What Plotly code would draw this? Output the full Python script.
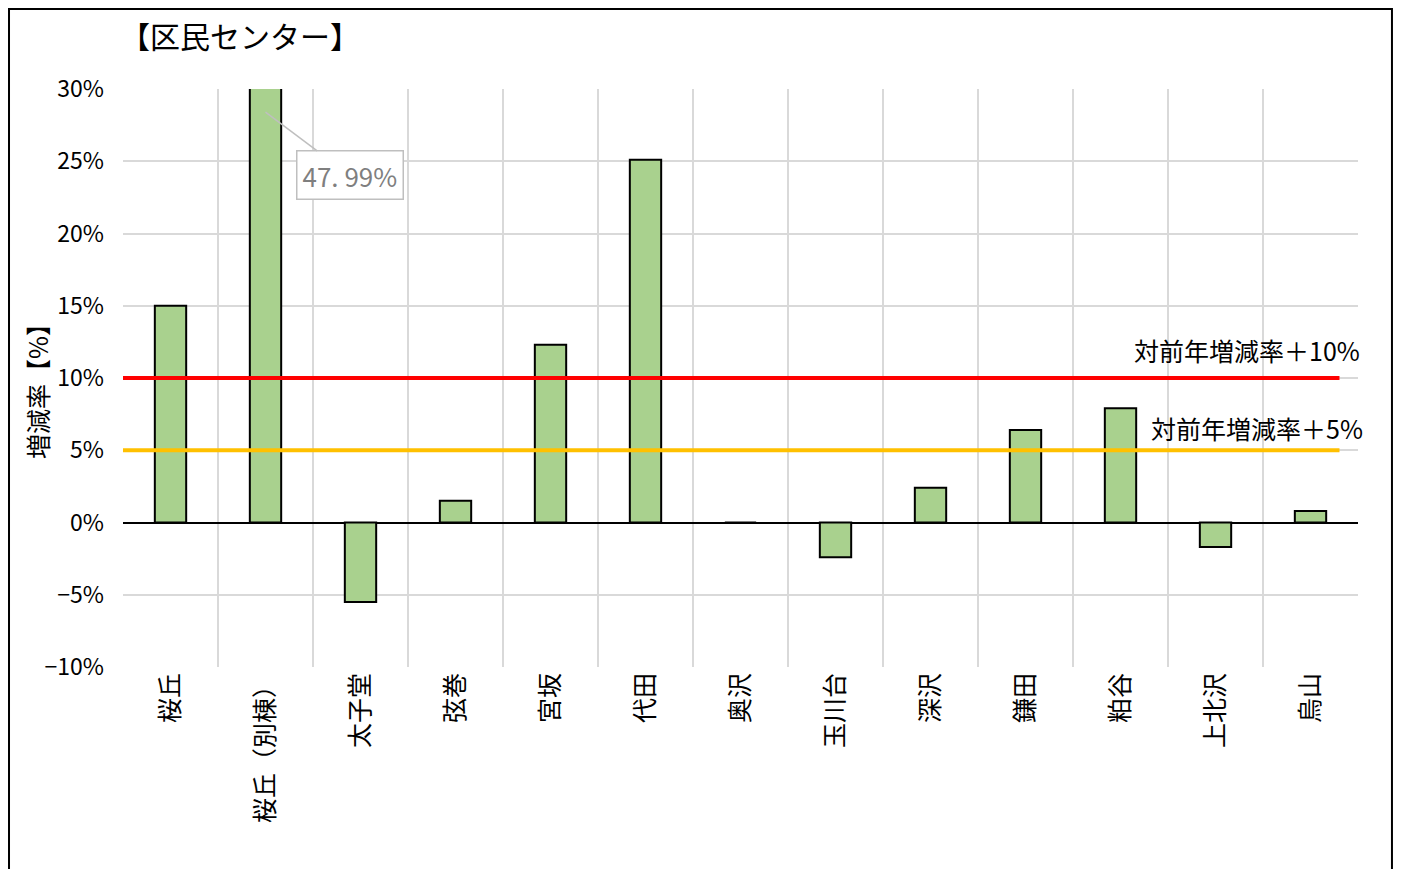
import plotly.graph_objects as go

# 区民センター 増減率
categories = ['桜丘', '桜丘（別棟）', '太子堂', '弦巻', '宮坂', '代田', '奥沢',
              '玉川台', '深沢', '鎌田', '粕谷', '上北沢', '烏山']
rates = [15.0, 47.99, -5.5, 1.5, 12.3, 25.1, 0.0, -2.4, 2.4, 6.4, 7.9, -1.7, 0.8]
threshold_red = 10
threshold_orange = 5
y_ticks = [-10, -5, 0, 5, 10, 15, 20, 25, 30]
y_tick_labels = ['−10%', '−5%', '0%', '5%', '10%', '15%', '20%', '25%', '30%']

FONT = 'Noto Sans CJK JP'

fig = go.Figure()
fig.add_trace(go.Bar(
    x=categories, y=rates,
    width=0.33,
    marker=dict(color='#A9D18E', line=dict(color='black', width=2)),
    hoverinfo='x+y'
))

# reference lines
fig.add_shape(type='line', xref='x domain', yref='y', x0=0, x1=0.985,
              y0=threshold_red, y1=threshold_red,
              line=dict(color='#FF0000', width=4))
fig.add_shape(type='line', xref='x domain', yref='y', x0=0, x1=0.985,
              y0=threshold_orange, y1=threshold_orange,
              line=dict(color='#FFC000', width=4))

fig.add_annotation(xref='paper', yref='y', x=1.0032, y=threshold_red, xanchor='right',
                   yanchor='middle', yshift=28, showarrow=False,
                   text='対前年増減率＋10%', font=dict(size=25, color='black', family=FONT))
fig.add_annotation(xref='paper', yref='y', x=1.0057, y=threshold_orange, xanchor='right',
                   yanchor='middle', yshift=22, showarrow=False,
                   text='対前年増減率＋5%', font=dict(size=25, color='black', family=FONT))

# callout for clipped bar
fig.add_annotation(x=categories[1], y=28.4, xref='x', yref='y',
                   text='47. 99%', showarrow=True, arrowhead=0, arrowcolor='#BFBFBF',
                   arrowwidth=1.5, ax=84, ay=63,
                   font=dict(size=26, color='#7F7F7F', family=FONT),
                   bordercolor='#BFBFBF', borderwidth=1.5, borderpad=5, bgcolor='white')

# title
fig.add_annotation(xref='paper', yref='paper', x=-0.004, y=1.0934, xanchor='left', yanchor='middle',
                   showarrow=False, text='【区民センター】',
                   font=dict(size=30, color='black', family=FONT))

# y axis title
fig.add_annotation(xref='paper', yref='paper', x=-0.0696, y=0.488, textangle=-90,
                   xanchor='center', yanchor='middle',
                   showarrow=False, text='増減率【%】',
                   font=dict(size=25, color='black', family=FONT))

# outer frame
fig.add_shape(type='rect', xref='paper', yref='paper', x0=-0.0923, x1=1.0275,
              y0=-0.40, y1=1.1384, line=dict(color='black', width=2), layer='below')

fig.update_layout(
    width=1385, height=861,
    margin=dict(l=115, r=35, t=81, b=202),
    plot_bgcolor='white', paper_bgcolor='white',
    showlegend=False,
    bargap=0.67,
    font=dict(family=FONT, color='black'),
    xaxis=dict(
        type='category', tickson='boundaries', showgrid=True, gridcolor='#D9D9D9',
        gridwidth=1.5, tickangle=-90, tickfont=dict(size=25, color='black'),
        showline=False, ticks='', zeroline=False,
    ),
    yaxis=dict(
        range=[-10, 30], tickvals=y_ticks, ticktext=y_tick_labels,
        showgrid=True, gridcolor='#D9D9D9', gridwidth=1.5,
        zeroline=True, zerolinecolor='black', zerolinewidth=2,
        tickfont=dict(size=23, color='black', family=FONT), ticklabelstandoff=18,
    ),
)

fig.write_html('out.html')
